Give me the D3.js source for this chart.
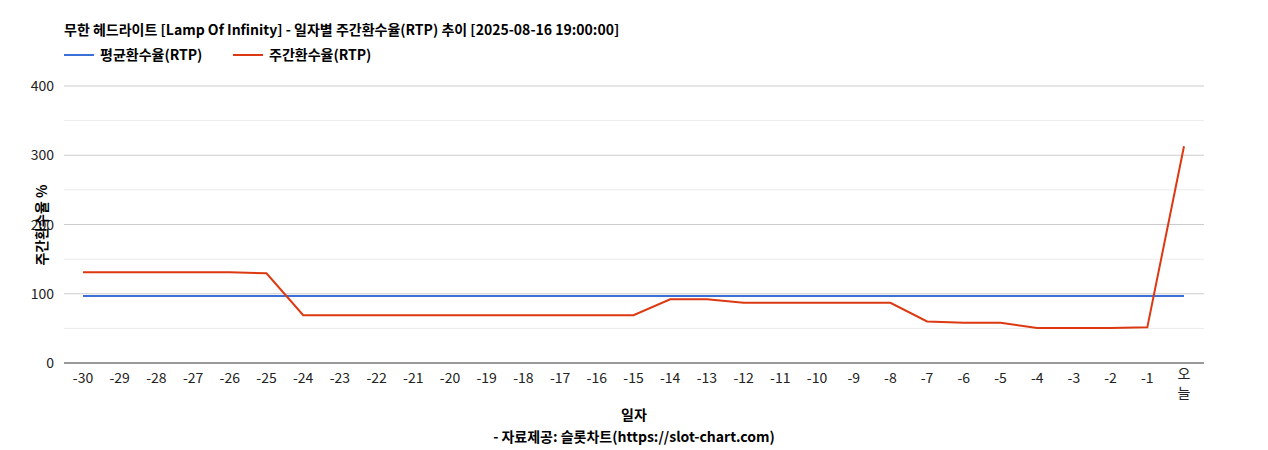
<!DOCTYPE html><html><head><meta charset="utf-8"><script src="https://cdn.jsdelivr.net/npm/d3@7"></script>
<style>body{margin:0;font-family:"Noto Sans CJK KR","Noto Sans",sans-serif}text{font-family:"Noto Sans CJK KR","Noto Sans",sans-serif}</style></head><body><svg id="c" width="1268" height="450"></svg><script>
const categories=["-30","-29","-28","-27","-26","-25","-24","-23","-22","-21","-20","-19","-18","-17","-16","-15","-14","-13","-12","-11","-10","-9","-8","-7","-6","-5","-4","-3","-2","-1","오늘"];
const avgRTP=categories.map(()=>96.7);
const weeklyRTP=[131,131,131,131,131,129.5,69,69,69,69,69,69,69,69,69,69,92,92,87,87,87,87,87,60,58,58,50.5,50.5,50.5,51.5,313];
const yTicks=[0,100,200,300,400];
const minorTicks=[50,150,250,350];
const svg=d3.select("#c");
const L=64,R=1204,T=86,B=363;
const x=d3.scalePoint().domain(categories).range([83,1184]);
const y=d3.scaleLinear().domain([0,400]).range([B,T]);
svg.selectAll(".mn").data(minorTicks).join("line").attr("x1",L).attr("x2",R).attr("y1",d=>y(d)).attr("y2",d=>y(d)).attr("stroke","#ebebeb");
svg.selectAll(".mj").data(yTicks).join("line").attr("x1",L).attr("x2",R).attr("y1",d=>y(d)).attr("y2",d=>y(d)).attr("stroke",d=>d==0?"#333":"#ccc");
svg.selectAll(".yl").data(yTicks).join("text").attr("x",54).attr("y",d=>y(d)+5).attr("text-anchor","end").attr("font-size",14).attr("fill","#222").text(d=>d);
const xt=svg.selectAll(".xl").data(categories).join("text").attr("x",d=>x(d)).attr("y",383).attr("text-anchor","middle").attr("font-size",14).attr("fill","#222");
xt.each(function(d){const t=d3.select(this);if(d==="오늘"){t.append("tspan").attr("x",x(d)).attr("dy",-4).text("오");t.append("tspan").attr("x",x(d)).attr("dy",19).text("늘");}else t.text(d);});
const line=d3.line().x((d,i)=>x(categories[i])).y(d=>y(d));
svg.append("path").datum(avgRTP).attr("d",line).attr("fill","none").attr("stroke","#3a6fd8").attr("stroke-width",2);
svg.append("path").datum(weeklyRTP).attr("d",line).attr("fill","none").attr("stroke","#dc3912").attr("stroke-width",2);
svg.append("text").attr("x",64).attr("y",35).attr("font-size",14).attr("font-weight","bold").text("무한 헤드라이트 [Lamp Of Infinity] - 일자별 주간환수율(RTP) 추이 [2025-08-16 19:00:00]");
const lg=[["평균환수율(RTP)","#3a6fd8",64],["주간환수율(RTP)","#dc3912",233]];
lg.forEach(([t,c,lx])=>{svg.append("line").attr("x1",lx).attr("x2",lx+30).attr("y1",55).attr("y2",55).attr("stroke",c).attr("stroke-width",2);svg.append("text").attr("x",lx+36).attr("y",60).attr("font-size",14).attr("font-weight","bold").text(t);});
svg.append("text").attr("transform","translate(47,225) rotate(-90)").attr("text-anchor","middle").attr("font-size",14).attr("font-weight","bold").text("주간환수율 %");
svg.append("text").attr("x",634).attr("y",420).attr("text-anchor","middle").attr("font-size",14).attr("font-weight","bold").text("일자");
svg.append("text").attr("x",634).attr("y",442).attr("text-anchor","middle").attr("font-size",14).attr("font-weight","bold").text("- 자료제공: 슬롯차트(https://slot-chart.com)");
</script></body></html>
